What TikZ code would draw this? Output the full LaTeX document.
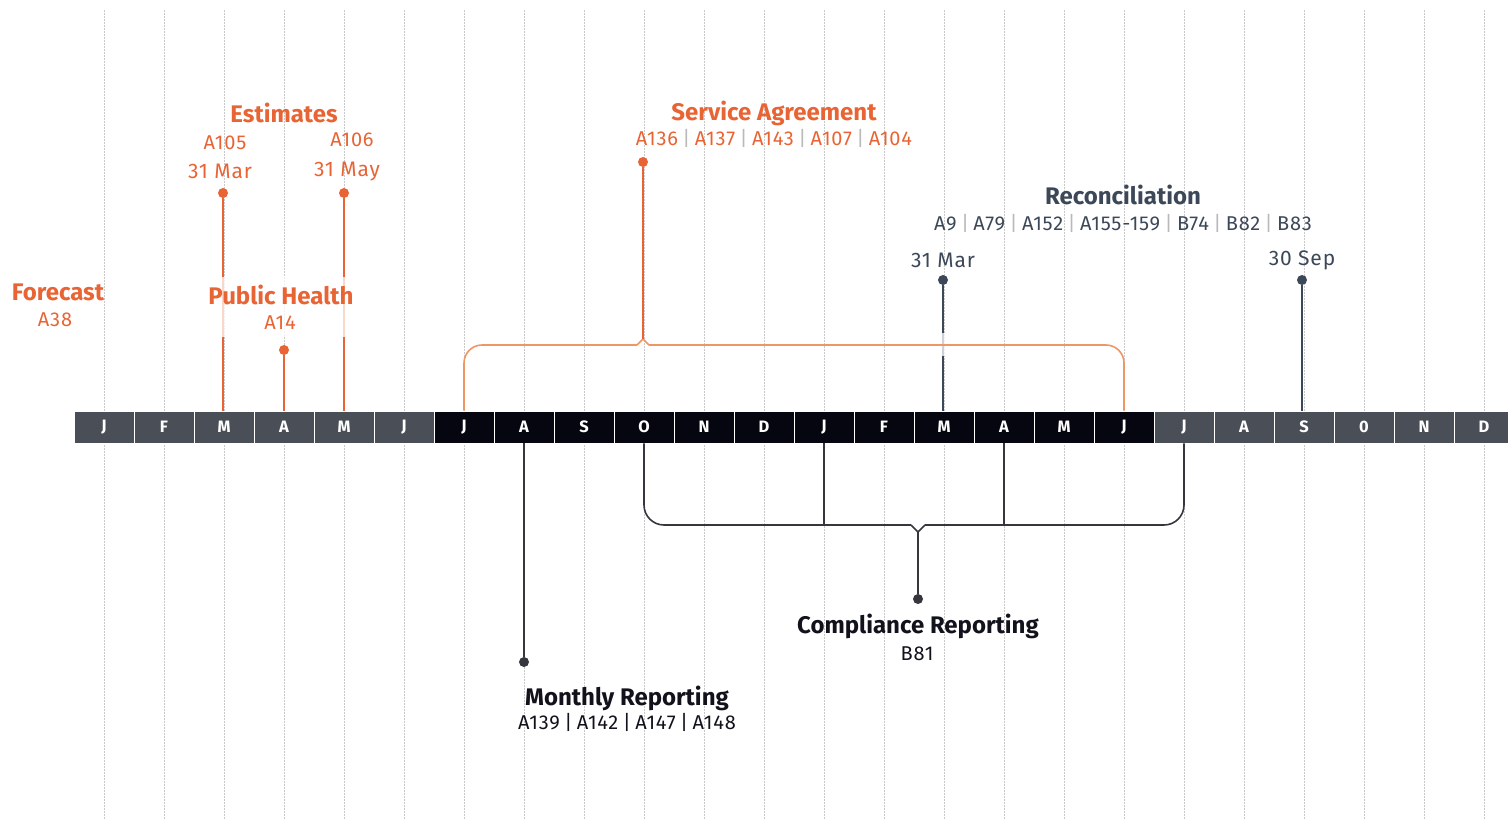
\documentclass[tikz,border=0pt]{standalone}
\usepackage{fontspec}
\setmainfont{Fira Sans}
\newfontfamily\labfont[LetterSpace=4]{Fira Sans}
\definecolor{org}{RGB}{232,100,52}
\definecolor{orgl}{RGB}{238,150,100}
\definecolor{navy}{RGB}{60,72,88}
\definecolor{ink}{RGB}{18,18,28}
\definecolor{bargray}{RGB}{74,79,87}
\definecolor{barblack}{RGB}{6,6,16}
\definecolor{gridc}{RGB}{200,200,200}
\definecolor{sepc}{RGB}{185,185,185}
\newcommand\psep[1][sepc]{\hspace{0.22em}\textcolor{#1}{|}\hspace{0.22em}}
\begin{document}
\begin{tikzpicture}[x=1pt,y=-1pt,
  cell/.style={minimum width=60pt, minimum height=32pt, inner sep=0pt, draw=white, line width=0.8pt, text=white, font=\bfseries\fontsize{16.5}{16.5}\selectfont},
  ttl/.style={inner sep=0pt, font=\bfseries\fontsize{24}{24}\selectfont},
  lab/.style={inner sep=0pt, font=\labfont\fontsize{20}{20}\selectfont},
  dlab/.style={inner sep=0pt, font=\labfont\fontsize{21}{21}\selectfont},
  dot/.style={circle, inner sep=0pt, minimum size=10pt},
  oline/.style={org, line width=2pt},
  nline/.style={navy, line width=2pt},
  kline/.style={ink!85, line width=1.6pt},
]
\useasboundingbox (0,0) rectangle (1508,819);
\clip (0,0) rectangle (1508,819);
% grid
\foreach \i in {0,...,23}
  \draw[gridc, line width=0.7pt, dash pattern=on 1.5pt off 1.5pt] ({104+60*\i},10) -- ({104+60*\i},819);
% month bar
\foreach \l [count=\i] in {J,F,M,A,M,J,J,A,S,O,N,D,J,F,M,A,M,J,J,A,S,0,N,D} {
  \ifnum\i<7 \def\cc{bargray}\else\ifnum\i>18 \def\cc{bargray}\else\def\cc{barblack}\fi\fi
  \node[cell, fill=\cc] (m\i) at ({44+60*\i},427) {\l};
}
% Estimates
\node[dot, fill=org] (e1) at (223,193) {};
\node[dot, fill=org] (e2) at (344,193) {};
\draw[oline] (e1) -- (e1 |- m3.north);
\draw[oline] (e2) -- (e2 |- m5.north);
% Public health
\node[dot, fill=org] (p1) at (284,350) {};
\draw[oline] (p1) -- (p1 |- m4.north);
% Reconciliation
\node[dot, fill=navy] (r1) at (943,280) {};
\node[dot, fill=navy] (r2) at (1302,280) {};
\draw[nline] (r1) -- (r1 |- m15.north);
\draw[nline] (r2) -- (r2 |- m21.north);
\fill[white, opacity=0.75] (937,333) rectangle (949,356);
% Service agreement bracket
\coordinate (sc) at (643,339);
\coordinate (sl) at (637,345);
\coordinate (sr) at (649,345);
\draw[orgl, line width=1.6pt, rounded corners=18pt] (m7.north) -- (464,345) -- (sl);
\draw[orgl, line width=1.6pt] (sl) -- (sc) -- (sr);
\draw[orgl, line width=1.6pt, rounded corners=18pt] (sr) -- (1124,345) -- (m18.north);
\node[dot, fill=org] (s1) at (643,162) {};
\draw[org, line width=1.8pt] (s1) -- (sc);
% Compliance bracket
\coordinate (cb) at (0,525);
\coordinate (cl) at (911,525);
\coordinate (cr) at (925,525);
\coordinate (cc) at (918,532);
\draw[kline, rounded corners=20pt] (m10.south) -- (644,525) -- (cl);
\draw[kline] (cl) -- (cc) -- (cr);
\draw[kline, rounded corners=20pt] (cr) -- (1184,525) -- (m19.south);
\draw[kline] (m13.south) -- (m13.south |- cb);
\draw[kline] (m16.south) -- (m16.south |- cb);
\node[dot, fill=ink!85] (c1) at (918,599) {};
\draw[kline] (cc) -- (c1);
% Monthly reporting
\node[dot, fill=ink!85] (mr) at (524,662) {};
\draw[kline] (m8.south) -- (mr);
% Public health text background
\fill[white, opacity=0.75] (205,277) rectangle (358,337);
% texts
\node[ttl, text=org] (tfc) at (58,292) {Forecast};
\node[lab, text=org] (tfc2) at (55,320) {A38};
\node[ttl, text=org] (tes) at (284,113) {Estimates};
\node[lab, text=org] (te1) at (225,143) {A105};
\node[dlab, text=org] (te1d) at (220,171) {31 Mar};
\node[lab, text=org] (te2) at (352,140) {A106};
\node[dlab, text=org] (te2d) at (347,171) {31 May};
\node[ttl, text=org] (tph) at (281,295) {Public Health};
\node[lab, text=org] (tph2) at (280,323) {A14};
\node[ttl, text=org] (tsa) at (774,113) {Service Agreement};
\node[lab, text=org] (tsa2) at (774,138) {A136\psep A137\psep A143\psep A107\psep A104};
\node[ttl, text=navy] (trc) at (1123,195) {Reconciliation};
\node[lab, text=navy] (trc2) at (1123,223) {A9\psep A79\psep A152\psep A155-159\psep B74\psep B82\psep B83};
\node[dlab, text=navy] (tr1) at (943,260) {31 Mar};
\node[dlab, text=navy] (tr2) at (1302,260) {30 Sep};
\node[ttl, text=ink] (tmr) at (627,698) {Monthly Reporting};
\node[lab, text=ink] (tmr2) at (627,722) {A139\psep[ink]A142\psep[ink]A147\psep[ink]A148};
\node[ttl, text=ink] (tcr) at (918,626) {Compliance Reporting};
\node[lab, text=ink] (tcr2) at (917,654) {B81};
\end{tikzpicture}
\end{document}
